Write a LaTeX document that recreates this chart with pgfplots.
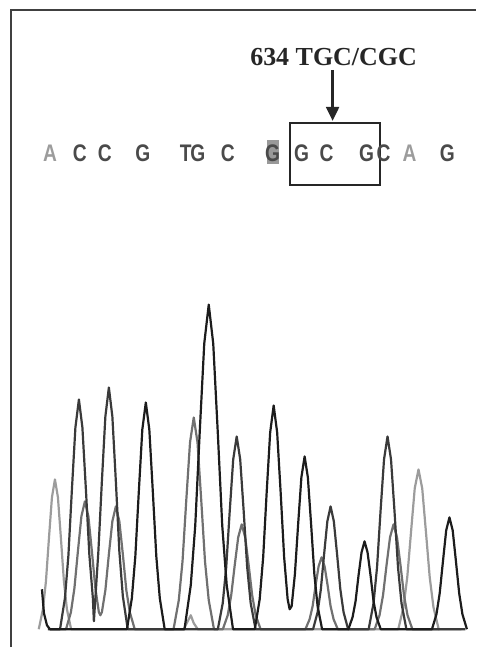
\documentclass[border=0pt]{standalone}
\usepackage{fontspec}
\setmainfont{Liberation Serif}
\newfontfamily\seqfont{Liberation Sans}
\usepackage{pgfplots}
\pgfplotsset{compat=1.18}
\usetikzlibrary{arrows.meta}
\definecolor{tK}{HTML}{1C1C1C}
\definecolor{tD}{HTML}{3A3A3A}
\definecolor{tM}{HTML}{707070}
\definecolor{tL}{HTML}{9C9C9C}
\definecolor{seq}{HTML}{4A4A4A}
\tikzset{sq/.style={font=\seqfont\bfseries\fontsize{12}{14}\selectfont, color=seq, xscale=0.8, inner sep=0pt}}
\begin{document}
\begin{tikzpicture}
\begin{axis}[
  scale only axis, width=238.5pt, height=324pt,
  xmin=0, xmax=477, ymin=-18, ymax=630,
  axis lines=none, clip=false,
]
\path (axis cs:0,-18) rectangle (axis cs:477,630);
% frame
\draw[line width=0.8pt, color=black!75] (axis cs:11,-18) -- (axis cs:11,620) -- (axis cs:477,620);
% light gray trace (A)
\addplot[color=tL, line width=1.1pt, line join=round] coordinates {
(38.8,0)(43,20)(46,48)(49,91)(52,132)(55,150)(58,132)(61,91)(64,48)(67,20)(71.2,0)(120,0)(184,0)(188,8)(191,14)(194,6)(198,0)(300,0)
(398.75,0)(404,22)(407.75,52)(411.5,97)(415.25,141)(419,160)(422.75,141)(426.5,97)(430.25,52)(434,22)(439.25,0)(462,0)
};
% medium gray trace (T)
\addplot[color=tM, line width=1.1pt, line join=round] coordinates {
(50,0)(66.1,0)(71,17)(74.5,41)(78,78)(81.5,113)(85,128)(88.5,113)(92,78)(95.5,41)(99,17)(100.5,14)
(102,17)(105.5,39)(109,75)(112.5,108)(116,123)(119.5,108)(123,75)(126.5,39)(130,17)(134.9,0)
(173.75,0)(179,29)(182.75,68)(186.5,129)(190.25,187)(194,212)(197.75,187)(201.5,129)(205.25,68)(209,29)(214.25,0)
(223.1,0)(228,14)(231.5,34)(235,64)(238.5,92)(242,105)(245.5,92)(249,64)(252.5,34)(256,14)(260.9,0)
(305.8,0)(310,10)(313,23)(316,44)(319,63)(322,72)(325,63)(328,44)(331,23)(334,10)(338.2,0)
(375.1,0)(380,14)(383.5,34)(387,64)(390.5,92)(394,105)(397.5,92)(401,64)(404.5,34)(408,14)(412.9,0)(440,0)
};
% dark gray trace (C)
\addplot[color=tD, line width=1.1pt, line join=round] coordinates {
(48,0)(60.1,0)(65,31)(68.5,74)(72,140)(75.5,202)(79,230)(82.5,202)(86,140)(89.5,74)(93,31)(94,8)
(98.5,78)(102,148)(105.5,213)(109,242)(112.5,213)(116,148)(119.5,78)(123,33)(127.9,0)
(218.1,0)(223,26)(226.5,62)(230,118)(233.5,170)(237,193)(240.5,170)(244,118)(247.5,62)(251,26)(255.9,0)
(313.45,0)(318,17)(321.25,40)(324.5,75)(327.75,108)(331,123)(334.25,108)(337.5,75)(340.75,40)(344,17)(348.55,0)
(369.1,0)(374,26)(377.5,62)(381,118)(384.5,170)(388,193)(391.5,170)(395,118)(398.5,62)(402,26)(406.9,0)(466,0)
};
% black trace (G)
\addplot[color=tK, line width=1.1pt, line join=round] coordinates {
(42,40)(44,16)(47,4)(50,0)
(127.1,0)(132,31)(135.5,73)(139,138)(142.5,200)(146,227)(149.5,200)(153,138)(156.5,73)(160,31)(164.9,0)
(184.7,0)(191,44)(195.5,104)(200,198)(204.5,286)(209,325)(213.5,286)(218,198)(222.5,104)(227,44)(233.3,0)
(255.1,0)(260,30)(263.5,72)(267,137)(270.5,197)(274,224)(277.5,197)(281,137)(284.5,72)(288,30)(290,20)
(292,23)(295.25,55)(298.5,105)(301.75,152)(305,173)(308.25,152)(311.5,105)(314.75,55)(318,23)(322.5,0)
(348.8,0)(353,12)(356,28)(359,54)(362,77)(365,88)(368,77)(371,54)(374,28)(377,12)(381.2,0)
(432.5,0)(437,15)(440.25,36)(443.5,68)(446.75,99)(450,112)(453.25,99)(456.5,68)(459.75,36)(463,15)(467.5,0)
};
% annotation
\node[font=\bfseries\fontsize{13}{15}\selectfont, color=black!85] at (axis cs:334,573) {634 TGC/CGC};
\draw[line width=1.2pt, color=black!85, -{Triangle[width=6.5pt,length=7pt]}] (axis cs:333,560) -- (axis cs:333,509);
\draw[line width=1pt, color=black!85] (axis cs:290,507) rectangle (axis cs:380,445);
\fill[color=black!40] (axis cs:267,466) rectangle (axis cs:279,490);
\node[sq, color=tL] at (axis cs:50,477) {A};
\node[sq] at (axis cs:80,477) {C};
\node[sq] at (axis cs:105,477) {C};
\node[sq] at (axis cs:143,477) {G};
\node[sq] at (axis cs:186,477) {T};
\node[sq] at (axis cs:198,477) {G};
\node[sq] at (axis cs:228,477) {C};
\node[sq] at (axis cs:273,477) {G};
\node[sq] at (axis cs:302,477) {G};
\node[sq] at (axis cs:327,477) {C};
\node[sq] at (axis cs:367,477) {G};
\node[sq] at (axis cs:384,477) {C};
\node[sq, color=tL] at (axis cs:410,477) {A};
\node[sq] at (axis cs:448,477) {G};
\end{axis}
\end{tikzpicture}
\end{document}
